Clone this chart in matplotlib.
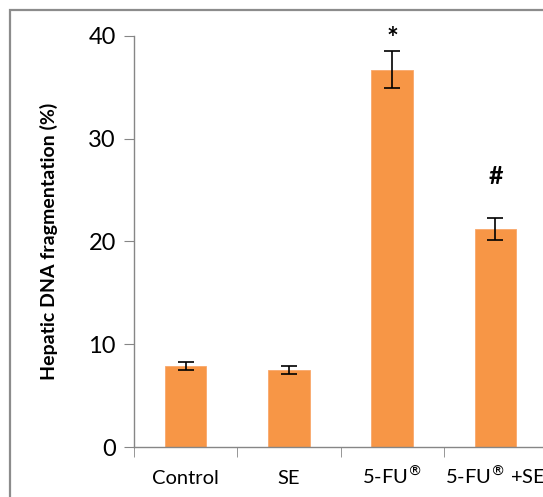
import numpy as np
import matplotlib
matplotlib.use('Agg')
from matplotlib import pyplot as plt
from matplotlib.patches import Rectangle

plt.rcParams['font.family'] = ['Lato', 'DejaVu Sans']
plt.rcParams['mathtext.fontset'] = 'custom'
plt.rcParams['mathtext.rm'] = 'DejaVu Sans'

groups = ['Control', 'SE', '5-FU$^{®}$', '5-FU$^{®}$ +SE']
values = [7.9, 7.5, 36.7, 21.2]
errors = [0.4, 0.4, 1.8, 1.1]
marks = ['', '', '*', '#']
mark_y = [0, 0, 39.7, 26.3]

fig = plt.figure(figsize=(5.43, 4.97), dpi=100)
ax = fig.add_axes([0.2468, 0.1006, 0.7606, 0.827])

x = np.arange(len(groups))
ax.bar(x, values, width=0.4, color='#F79646', edgecolor='#F9A86C', linewidth=0.6,
       yerr=errors, capsize=6, error_kw=dict(ecolor='black', elinewidth=1.2, capthick=1.2))

for xi, m, my in zip(x, marks, mark_y):
    if m:
        ax.text(xi, my, m, ha='center', va='center', fontsize=20 if m == '*' else 18,
                fontweight='bold', clip_on=False)

ax.set_xlim(-0.5, 3.5)
ax.set_ylim(0, 40)
ax.set_yticks([0, 10, 20, 30, 40])
ax.set_xticks(x)
ax.set_xticklabels(groups, fontsize=14.5)
for lbl in ax.get_xticklabels():
    lbl.set_verticalalignment('baseline')
ax.set_xticks([-0.5, 0.5, 1.5, 2.5, 3.5], minor=True)
ax.tick_params(axis='x', which='major', length=0, pad=26.5)
ax.tick_params(axis='x', which='minor', length=7, color='#868686', direction='out')
ax.tick_params(axis='y', length=7, color='#868686', labelsize=17, pad=6)

for s in ['top', 'right']:
    ax.spines[s].set_visible(False)
for s in ['left', 'bottom']:
    ax.spines[s].set_color('#868686')
    ax.spines[s].set_linewidth(1.0)

ax.set_ylabel('Hepatic DNA fragmentation (%)', fontsize=14, fontweight='bold', labelpad=22)

# outer frame of the chart area
fig.patches.append(Rectangle((10 / 543, -0.1), 1.2, 1 - 10 / 497 + 0.1,
                             transform=fig.transFigure, fill=False,
                             edgecolor='#8C8C8C', linewidth=1.6))

fig.savefig('out.png', dpi=100)
